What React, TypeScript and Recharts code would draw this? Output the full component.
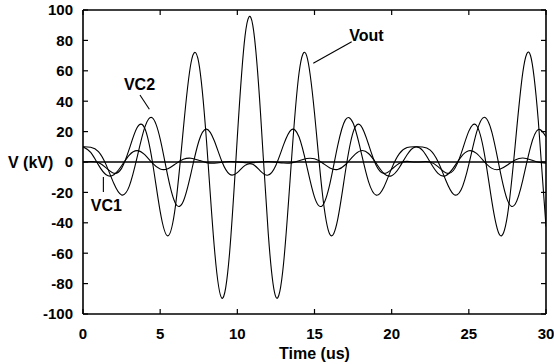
import { LineChart, Line, XAxis, YAxis, ReferenceLine, ReferenceDot } from 'recharts'

const time = [
  0, 0.5, 1, 1.5, 2, 2.5, 3, 3.5, 4, 4.5, 5, 5.5, 6, 6.5, 7, 7.5, 8, 8.5, 9, 9.5,
  10, 10.5, 11, 11.5, 12, 12.5, 13, 13.5, 14, 14.5, 15, 15.5, 16, 16.5, 17, 17.5, 18, 18.5, 19, 19.5,
  20, 20.5, 21, 21.5, 22, 22.5, 23, 23.5, 24, 24.5, 25, 25.5, 26, 26.5, 27, 27.5, 28, 28.5, 29, 29.5, 30,
]
const vout = [
  0, 0.3, -0.4, -3.9, -7.4, -4.2, 8.6, 22.5, 22.2, 0, -32.5, -48.6, -28.2, 21.6, 65.3, 65.4, 14.1, -55.1, -89.6, -59.5,
  16.4, 83.0, 90.1, 32.5, -46.6, -88.9, -66.3, 0, 58.7, 69.7, 32.2, -19.7, -47.7, -37.9, -6.4, 19.5, 24.0, 11.7, -2.3, -7.5,
  -4.8, -0.8, 0.4, 0, 0.2, 0, -3.0, -7.0, -5.6, 5.5, 20.3, 24.0, 5.9, -26.4, -48.0, -35.3, 10.7, 59.1, 69.9, 27.3, -42.4,
]
const vc2 = [
  10, 9.7, 6.8, -1.9, -14.2, -21.7, -15.9, 2.8, 22.8, 29.0, 15.2, -9.5, -27.4, -25.8, -7.3, 13.5, 21.6, 14.1, 0.3, -8.1,
  -7.0, -2.2, -1.5, -6.0, -8.6, -2.1, 11.4, 21.2, 16.4, -2.7, -23.1, -28.8, -14.2, 10.6, 27.7, 25.6, 7.3, -12.9, -21.8, -16.4,
  -4.2, 5.5, 9.5, 10.0, 9.9, 7.8, 0.3, -11.8, -21.1, -18.3, -1.5, 19.5, 29.4, 19.3, -4.5, -25.1, -27.8, -11.7, 10.0, 21.3, 16.6,
]
const vc1 = [
  10, 6.3, -1.9, -8.4, -8.4, -2.5, 4.6, 7.5, 4.8, -0.8, -4.6, -4.4, -1.2, 1.8, 2.5, 1.2, -0.4, -0.8, -0.2, 0.3,
  0.1, -0.4, -0.4, 0, 0.3, -0.1, -0.7, -0.6, 0.8, 2.3, 2.1, -0.5, -3.9, -4.9, -1.8, 3.7, 7.4, 5.6, -0.9, -7.6,
  -9.0, -3.6, 4.8, 9.8, 7.6, -0.2, -7.5, -9.0, -3.9, 3.4, 7.4, 5.7, 0.3, -4.2, -4.8, -2.0, 1.3, 2.6, 1.5, -0.1, -0.8,
]

const xTicks = [0, 5, 10, 15, 20, 25, 30]
const yTicks = [-100, -80, -60, -40, -20, 0, 20, 40, 60, 80, 100]

// curve labels with their pointer lines, in data units
const labels = [
  { text: 'Vout', x: 18.36, y: 83.6, from: { x: 17.41, y: 79.1 }, to: { x: 14.92, y: 64.9 } },
  { text: 'VC2', x: 3.66, y: 51.3, from: { x: 3.69, y: 44.1 }, to: { x: 4.3, y: 34.7 } },
  { text: 'VC1', x: 1.51, y: -28.6, from: { x: 1.32, y: -9.9 }, to: { x: 1.32, y: -19.7 } },
]

const rows = time.map((t, i) => ({ t, vout: vout[i], vc2: vc2[i], vc1: vc1[i] }))

const FONT = '"Liberation Sans", Arial, Helvetica, sans-serif'
const TICK_LEN = 5
const X_MARGIN = 14
const Y_MARGIN = 10

const textProps = { fontFamily: FONT, fontWeight: 'bold', fill: '#000' }

function BottomTick({ x, y, payload }: any) {
  const y0 = y - X_MARGIN
  return (
    <g>
      <line x1={x} x2={x} y1={y0} y2={y0 - TICK_LEN} stroke="#000" strokeWidth={1.2} />
      <text x={x} y={y} dy="0.72em" textAnchor="middle" fontSize={15} {...textProps}>{payload.value}</text>
    </g>
  )
}
function TopTick({ x, y }: any) {
  return <line x1={x} x2={x} y1={y} y2={y + TICK_LEN} stroke="#000" strokeWidth={1.2} />
}
function LeftTick({ x, y, payload }: any) {
  const x0 = x + Y_MARGIN
  return (
    <g>
      <line x1={x0} x2={x0 + TICK_LEN} y1={y} y2={y} stroke="#000" strokeWidth={1.2} />
      <text x={x} y={y} dy="0.36em" textAnchor="end" fontSize={15} {...textProps}>{payload.value}</text>
    </g>
  )
}
function RightTick({ x, y }: any) {
  return <line x1={x} x2={x - TICK_LEN} y1={y} y2={y} stroke="#000" strokeWidth={1.2} />
}

const axisLine = { stroke: '#000', strokeWidth: 1.6 }

export default function App() {
  return (
    <div style={{ width: 554, height: 364, background: '#fff' }}>
      <style>{'body{margin:0}'}</style>
      <LineChart width={554} height={364} data={rows} margin={{ top: 0, right: 0, bottom: 0, left: 0 }}>
        <XAxis dataKey="t" type="number" domain={[0, 30]} ticks={xTicks} height={50}
          tickSize={0} tickMargin={X_MARGIN} tickLine={false} axisLine={axisLine} tick={BottomTick}
          allowDataOverflow
          label={{ value: 'Time (us)', position: 'insideBottom', offset: 5, fontSize: 16, ...textProps }} />
        <XAxis xAxisId="top" orientation="top" dataKey="t" type="number" domain={[0, 30]} ticks={xTicks}
          height={10} tickSize={0} tickMargin={0} tickLine={false} axisLine={axisLine} tick={TopTick}
          allowDataOverflow />
        <YAxis type="number" domain={[-100, 100]} ticks={yTicks} width={83}
          tickSize={0} tickMargin={Y_MARGIN} tickLine={false} axisLine={axisLine} tick={LeftTick}
          allowDataOverflow
          label={{ value: 'V (kV)', position: 'insideLeft', offset: 8, fontSize: 16, ...textProps }} />
        <YAxis yAxisId="right" orientation="right" type="number" domain={[-100, 100]} ticks={yTicks} width={8}
          tickSize={0} tickMargin={0} tickLine={false} axisLine={axisLine} tick={RightTick}
          allowDataOverflow />
        <ReferenceLine y={0} stroke="#000" strokeWidth={1.3} />
        <Line dataKey="vc1" type="natural" stroke="#000" strokeWidth={1.1} dot={false} isAnimationActive={false} />
        <Line dataKey="vc2" type="natural" stroke="#000" strokeWidth={1.1} dot={false} isAnimationActive={false} />
        <Line dataKey="vout" type="natural" stroke="#000" strokeWidth={1.1} dot={false} isAnimationActive={false} />
        {labels.map(l => (
          <ReferenceLine key={l.text + 'p'} segment={[l.from, l.to]} stroke="#000" strokeWidth={1.1} />
        ))}
        {labels.map(l => (
          <ReferenceDot key={l.text} x={l.x} y={l.y} r={0} stroke="none" fill="none"
            label={{ value: l.text, position: 'center', fontSize: 16, ...textProps }} />
        ))}
      </LineChart>
    </div>
  )
}
